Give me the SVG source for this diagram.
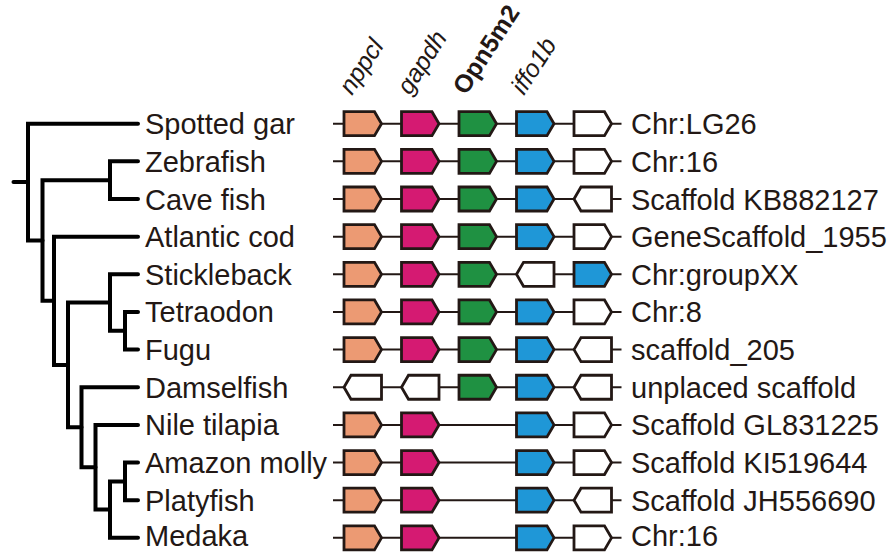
<svg xmlns="http://www.w3.org/2000/svg" xmlns:xlink="http://www.w3.org/1999/xlink" width="892" height="552" viewBox="0 0 892 552">
<style>
text{font-family:"Liberation Sans",Arial,sans-serif;fill:#231815}
.lab{font-size:29px}
.hdr{font-size:25px;font-style:italic}
.hdrb{font-size:25px;font-weight:bold}
.tree{fill:none;stroke:#000;stroke-width:4;stroke-linecap:round;stroke-linejoin:miter}
.bb{stroke:#231815;stroke-width:2}
.g{stroke:#231815;stroke-width:2.8;stroke-linejoin:miter}
.o{fill:#EC9A73}.m{fill:#D51A72}.gr{fill:#1F9142}.b{fill:#1F97D7}.w{fill:#fff}
</style>
<defs>
<path id="f" d="M0,-12 H30.5 L37.5,0 L30.5,12 H0 Z"/>
<path id="r" d="M0,0 L7,-12 H37.5 V12 H7 Z"/>
</defs>
<g id="headers">
<text class="hdr" transform="translate(352,96) rotate(-57)">nppcl</text>
<text class="hdr" transform="translate(410,96) rotate(-57)">gapdh</text>
<text class="hdrb" transform="translate(466,96) rotate(-57)">Opn5m2</text>
<text class="hdr" transform="translate(524,96) rotate(-57)">iffo1b</text>
</g>
<g id="connectors">
<path class="tree" d="M13.5,182.1 H28"/>
<path class="tree" d="M138,123.7 H28 V240.5 H42.5"/>
<path class="tree" d="M110,180.2 H42.5 V300.8 H54"/>
<path class="tree" d="M138,161.35 H110 V199 H138"/>
<path class="tree" d="M138,236.65 H54 V364.9 H68"/>
<path class="tree" d="M110,302.5 H68 V427.25 H81.5"/>
<path class="tree" d="M138,274.3 H110 V330.8 H125"/>
<path class="tree" d="M138,311.95 H125 V349.6 H138"/>
<path class="tree" d="M138,387.25 H81.5 V467.25 H95.5"/>
<path class="tree" d="M138,424.9 H95.5 V509.6 H110"/>
<path class="tree" d="M125,481.4 H110 V537.85 H138"/>
<path class="tree" d="M138,462.55 H125 V500.2 H138"/>
</g>
<g id="row1" transform="translate(0,123.7)">
<text class="lab" x="145" y="10.5">Spotted gar</text>
<line class="bb" x1="333" y1="0" x2="621.5" y2="0"/>
<use href="#f" x="344" class="g o"/><use href="#f" x="401.5" class="g m"/><use href="#f" x="459" class="g gr"/><use href="#f" x="516.5" class="g b"/><use href="#f" x="574" class="g w"/>
<text class="lab" x="631" y="10.5">Chr:LG26</text>
</g>
<g id="row2" transform="translate(0,161.35)">
<text class="lab" x="145" y="10.5">Zebrafish</text>
<line class="bb" x1="333" y1="0" x2="621.5" y2="0"/>
<use href="#f" x="344" class="g o"/><use href="#f" x="401.5" class="g m"/><use href="#f" x="459" class="g gr"/><use href="#f" x="516.5" class="g b"/><use href="#f" x="574" class="g w"/>
<text class="lab" x="631" y="10.5">Chr:16</text>
</g>
<g id="row3" transform="translate(0,199)">
<text class="lab" x="145" y="10.5">Cave fish</text>
<line class="bb" x1="333" y1="0" x2="621.5" y2="0"/>
<use href="#f" x="344" class="g o"/><use href="#f" x="401.5" class="g m"/><use href="#f" x="459" class="g gr"/><use href="#f" x="516.5" class="g b"/><use href="#r" x="574" class="g w"/>
<text class="lab" x="631" y="10.5">Scaffold KB882127</text>
</g>
<g id="row4" transform="translate(0,236.65)">
<text class="lab" x="145" y="10.5">Atlantic cod</text>
<line class="bb" x1="333" y1="0" x2="621.5" y2="0"/>
<use href="#f" x="344" class="g o"/><use href="#f" x="401.5" class="g m"/><use href="#f" x="459" class="g gr"/><use href="#f" x="516.5" class="g b"/><use href="#f" x="574" class="g w"/>
<text class="lab" x="631" y="10.5">GeneScaffold_1955</text>
</g>
<g id="row5" transform="translate(0,274.3)">
<text class="lab" x="145" y="10.5">Stickleback</text>
<line class="bb" x1="333" y1="0" x2="621.5" y2="0"/>
<use href="#f" x="344" class="g o"/><use href="#f" x="401.5" class="g m"/><use href="#f" x="459" class="g gr"/><use href="#r" x="516.5" class="g w"/><use href="#f" x="574" class="g b"/>
<text class="lab" x="631" y="10.5">Chr:groupXX</text>
</g>
<g id="row6" transform="translate(0,311.95)">
<text class="lab" x="145" y="10.5">Tetraodon</text>
<line class="bb" x1="333" y1="0" x2="621.5" y2="0"/>
<use href="#f" x="344" class="g o"/><use href="#f" x="401.5" class="g m"/><use href="#f" x="459" class="g gr"/><use href="#f" x="516.5" class="g b"/><use href="#f" x="574" class="g w"/>
<text class="lab" x="631" y="10.5">Chr:8</text>
</g>
<g id="row7" transform="translate(0,349.6)">
<text class="lab" x="145" y="10.5">Fugu</text>
<line class="bb" x1="333" y1="0" x2="621.5" y2="0"/>
<use href="#f" x="344" class="g o"/><use href="#f" x="401.5" class="g m"/><use href="#f" x="459" class="g gr"/><use href="#f" x="516.5" class="g b"/><use href="#r" x="574" class="g w"/>
<text class="lab" x="631" y="10.5">scaffold_205</text>
</g>
<g id="row8" transform="translate(0,387.25)">
<text class="lab" x="145" y="10.5">Damselfish</text>
<line class="bb" x1="333" y1="0" x2="621.5" y2="0"/>
<use href="#r" x="344" class="g w"/><use href="#r" x="401.5" class="g w"/><use href="#f" x="459" class="g gr"/><use href="#f" x="516.5" class="g b"/><use href="#r" x="574" class="g w"/>
<text class="lab" x="631" y="10.5">unplaced scaffold</text>
</g>
<g id="row9" transform="translate(0,424.9)">
<text class="lab" x="145" y="10.5">Nile tilapia</text>
<line class="bb" x1="333" y1="0" x2="621.5" y2="0"/>
<use href="#f" x="344" class="g o"/><use href="#f" x="401.5" class="g m"/><use href="#f" x="516.5" class="g b"/><use href="#f" x="574" class="g w"/>
<text class="lab" x="631" y="10.5">Scaffold GL831225</text>
</g>
<g id="row10" transform="translate(0,462.55)">
<text class="lab" x="145" y="10.5">Amazon molly</text>
<line class="bb" x1="333" y1="0" x2="621.5" y2="0"/>
<use href="#f" x="344" class="g o"/><use href="#f" x="401.5" class="g m"/><use href="#f" x="516.5" class="g b"/><use href="#f" x="574" class="g w"/>
<text class="lab" x="631" y="10.5">Scaffold KI519644</text>
</g>
<g id="row11" transform="translate(0,500.2)">
<text class="lab" x="145" y="10.5">Platyfish</text>
<line class="bb" x1="333" y1="0" x2="621.5" y2="0"/>
<use href="#f" x="344" class="g o"/><use href="#f" x="401.5" class="g m"/><use href="#f" x="516.5" class="g b"/><use href="#r" x="574" class="g w"/>
<text class="lab" x="631" y="10.5">Scaffold JH556690</text>
</g>
<g id="row12" transform="translate(0,537.85)">
<text class="lab" x="145" y="8">Medaka</text>
<line class="bb" x1="333" y1="0" x2="621.5" y2="0"/>
<use href="#f" x="344" class="g o"/><use href="#f" x="401.5" class="g m"/><use href="#f" x="516.5" class="g b"/><use href="#f" x="574" class="g w"/>
<text class="lab" x="631" y="8">Chr:16</text>
</g>
</svg>
